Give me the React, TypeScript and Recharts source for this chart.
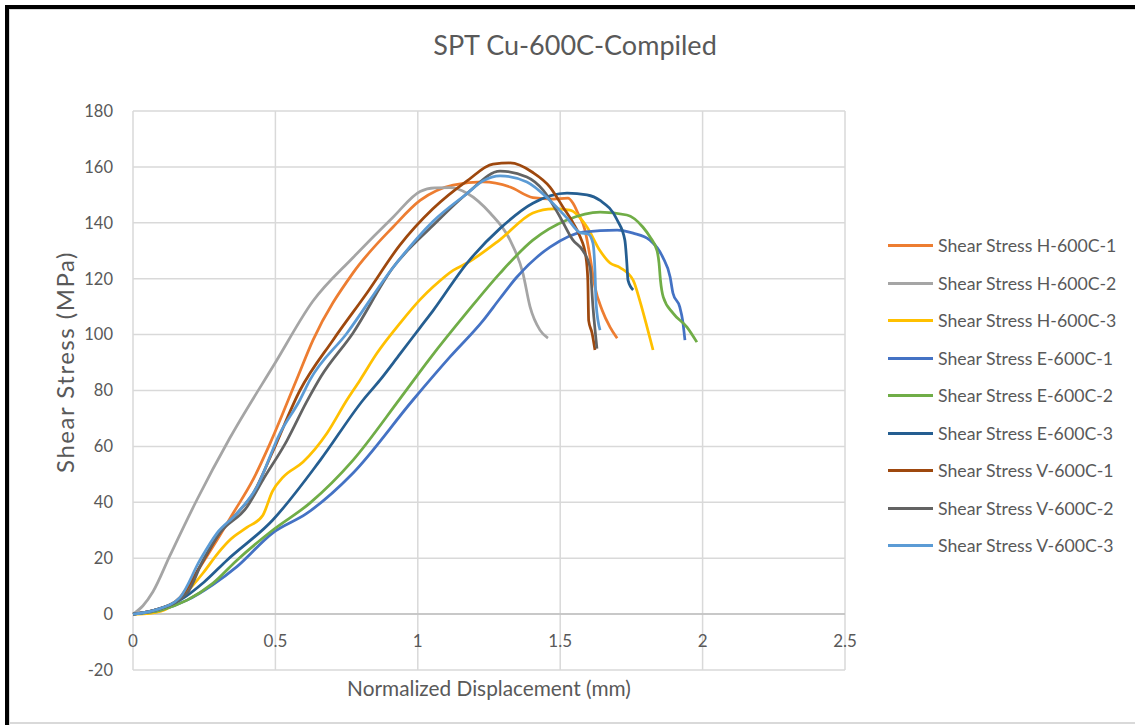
import { LineChart, Line, XAxis, YAxis, CartesianGrid, ReferenceLine, Legend } from "recharts";

type Pt = [number, number];

// normalized displacement (mm), shear stress (MPa)
const H1: Pt[] = [
  [0, 0], [0.08, 1.5], [0.165, 6], [0.23, 16], [0.295, 26.5], [0.351, 36], [0.421, 48], [0.481, 61],
  [0.575, 84], [0.632, 98], [0.772, 122], [0.913, 138.5], [1.008, 148], [1.124, 153.5], [1.229, 154.6],
  [1.324, 152.8], [1.404, 149], [1.475, 148.5], [1.527, 148.8], [1.545, 147], [1.562, 143.5],
  [1.587, 137.4], [1.605, 127.7], [1.622, 117], [1.647, 108.8], [1.675, 102.7], [1.7, 98.7],
];
const H2: Pt[] = [
  [0, 0], [0.035, 3], [0.07, 8], [0.13, 21], [0.225, 41], [0.34, 63], [0.5, 90], [0.632, 112],
  [0.772, 127.5], [0.913, 142], [1.008, 151.2], [1.06, 152.5], [1.113, 152.6], [1.173, 150.6],
  [1.254, 143.5], [1.324, 133.8], [1.369, 122], [1.394, 110], [1.429, 101.6], [1.457, 98.7],
];
const H3: Pt[] = [
  [0, 0], [0.06, 0.3], [0.13, 2.5], [0.19, 8], [0.246, 14.7], [0.3, 22], [0.34, 26.5], [0.4, 31],
  [0.456, 35.4], [0.49, 44], [0.527, 49], [0.597, 54.4], [0.681, 64.7], [0.751, 76.6], [0.797, 83.7],
  [0.857, 93.4], [0.937, 104], [1.008, 112.5], [1.053, 117], [1.124, 123], [1.173, 125.6], [1.289, 134],
  [1.404, 143.5], [1.475, 145], [1.534, 144.5], [1.594, 138.5], [1.64, 130], [1.675, 125.6], [1.71, 124],
  [1.756, 119.5], [1.78, 112], [1.805, 102.7], [1.826, 94.5],
];
const E1: Pt[] = [
  [0, 0], [0.1, 1.5], [0.19, 5], [0.28, 10.5], [0.365, 17], [0.49, 29], [0.61, 36], [0.772, 50.4],
  [0.983, 76.6], [1.113, 92], [1.229, 105], [1.289, 113], [1.348, 120.6], [1.464, 131.3], [1.58, 136.7],
  [1.7, 137.4], [1.756, 136.3], [1.815, 133.8], [1.86, 127.7], [1.886, 120.6], [1.896, 114.8],
  [1.92, 109.8], [1.93, 105], [1.938, 98],
];
const E2: Pt[] = [
  [0, 0], [0.1, 1.5], [0.19, 5], [0.28, 11], [0.365, 19.3], [0.49, 30], [0.621, 39.7], [0.772, 55],
  [0.937, 77], [1.043, 91.5], [1.173, 108], [1.289, 122], [1.404, 133.8], [1.524, 141], [1.64, 143.8],
  [1.734, 142.8], [1.79, 138.5], [1.815, 135], [1.84, 130], [1.847, 125.6], [1.852, 119.5],
  [1.862, 113.4], [1.896, 107.7], [1.945, 102.7], [1.98, 97.3],
];
const E3: Pt[] = [
  [0, 0], [0.08, 1.5], [0.165, 5], [0.25, 11.5], [0.33, 19.3], [0.49, 33.6], [0.657, 55], [0.808, 76.6],
  [0.867, 83.7], [0.937, 93], [1.008, 102.5], [1.053, 108.5], [1.173, 125.6], [1.289, 138], [1.404, 147],
  [1.524, 150.6], [1.594, 150], [1.64, 148], [1.7, 141], [1.727, 133.8], [1.734, 125.6], [1.738, 119.5],
  [1.756, 116],
];
const V1: Pt[] = [
  [0, 0], [0.08, 1.5], [0.165, 5.7], [0.235, 17], [0.305, 29], [0.365, 36], [0.421, 43], [0.49, 58],
  [0.586, 80], [0.702, 98], [0.822, 115], [0.937, 132], [1.053, 145], [1.173, 155], [1.264, 161],
  [1.324, 161.4], [1.404, 158], [1.464, 152.8], [1.51, 145.6], [1.545, 140], [1.57, 135], [1.59, 128],
  [1.597, 119.5], [1.6, 105], [1.612, 100.5], [1.622, 94.5],
];
const V2: Pt[] = [
  [0, 0], [0.08, 1.5], [0.19, 7.5], [0.246, 19.3], [0.305, 29], [0.4, 38.3], [0.456, 48], [0.54, 62],
  [0.61, 76], [0.66, 85], [0.772, 100.5], [0.913, 124], [1.053, 139], [1.173, 150.5], [1.289, 158.5],
  [1.383, 156.4], [1.44, 151.7], [1.5, 142], [1.545, 133.8], [1.58, 130], [1.605, 124], [1.615, 110],
  [1.629, 95],
];
const V3: Pt[] = [
  [0, 0], [0.08, 1.5], [0.165, 6], [0.235, 19.3], [0.295, 29], [0.365, 36], [0.435, 45.5], [0.516, 64.7],
  [0.586, 76.6], [0.621, 83.7], [0.751, 100.5], [0.913, 124], [1.053, 140.5], [1.173, 150.5],
  [1.229, 155], [1.289, 156.8], [1.383, 154.6], [1.464, 148], [1.524, 141.7], [1.57, 136.5],
  [1.598, 136], [1.615, 132.7], [1.622, 123], [1.626, 111], [1.64, 101.6],
];

const seriesNames = [
  "Shear Stress H-600C-1", "Shear Stress H-600C-2", "Shear Stress H-600C-3",
  "Shear Stress E-600C-1", "Shear Stress E-600C-2", "Shear Stress E-600C-3",
  "Shear Stress V-600C-1", "Shear Stress V-600C-2", "Shear Stress V-600C-3",
];
const seriesColors = [
  "#ED7D31", "#A5A5A5", "#FFC000",
  "#4472C4", "#70AD47", "#255E91",
  "#9E480E", "#636363", "#5B9BD5",
];
const seriesPoints = [H1, H2, H3, E1, E2, E3, V1, V2, V3];

const xTicks = [0, 0.5, 1, 1.5, 2, 2.5];
const yTicks = [-20, 0, 20, 40, 60, 80, 100, 120, 140, 160, 180];

const FONT = "Lato, 'Open Sans', sans-serif";
const TEXT = "#595959";

// x labels sit just under the zero line, not at the bottom of the plot
function XTick(props: any) {
  const { x, y, payload } = props;
  return (
    <text x={x} y={y - 23} textAnchor="middle" fill={TEXT} fontSize={17} fontFamily={FONT}>
      {payload.value}
    </text>
  );
}

function LegendList() {
  return (
    <div style={{ fontFamily: FONT, fontSize: 17.7, color: TEXT }}>
      {seriesNames.map((name, i) => (
        <div key={name} style={{ height: 37.5, display: "flex", alignItems: "center" }}>
          <div style={{ width: 45, height: 3, background: seriesColors[i], marginRight: 5 }} />
          <span style={{ whiteSpace: "nowrap" }}>{name}</span>
        </div>
      ))}
    </div>
  );
}

export default function App() {
  return (
    <div style={{ position: "absolute", left: 0, top: 0, width: 1135, height: 725, background: "#fff", overflow: "hidden" }}>
      <div style={{ position: "absolute", left: 5, top: 5, width: 1200, height: 800, borderTop: "4px solid #000", borderLeft: "4px solid #000" }} />
      <div style={{ position: "absolute", left: 9, top: 9, width: 1200, height: 800, borderTop: "1px solid #d9d9d9", borderLeft: "1px solid #d9d9d9" }} />
      <div style={{ position: "absolute", left: 9, top: 722, width: 1200, height: 2, background: "#d9d9d9" }} />
      <LineChart width={1135} height={725} margin={{ top: 111, right: 290, bottom: 0, left: 40 }} style={{ position: "absolute", left: 0, top: 0 }}>
        <CartesianGrid stroke="#d9d9d9" strokeWidth={1.5} />
        <XAxis
          dataKey="x"
          type="number"
          domain={[0, 2.5]}
          ticks={xTicks}
          height={55}
          tickLine={false}
          axisLine={false}
          tickSize={0}
          tickMargin={0}
          tick={<XTick />}
        />
        <YAxis
          type="number"
          domain={[-20, 180]}
          ticks={yTicks}
          width={93}
          tickLine={false}
          axisLine={false}
          tickMargin={14}
          tick={{ fill: TEXT, fontSize: 16.5, fontFamily: FONT }}
        />
        <ReferenceLine y={0} stroke="#bfbfbf" strokeWidth={1.5} />
        {seriesPoints.map((pts, i) => (
          <Line
            key={seriesNames[i]}
            name={seriesNames[i]}
            data={pts.map(([x, y]) => ({ x, y }))}
            dataKey="y"
            type="monotone"
            stroke={seriesColors[i]}
            strokeWidth={2.75}
            dot={false}
            activeDot={false}
            isAnimationActive={false}
          />
        ))}
        <Legend
          layout="vertical"
          align="center"
          verticalAlign="middle"
          wrapperStyle={{ left: 888, top: 227, width: 245 }}
          content={() => <LegendList />}
        />
      </LineChart>
      <div style={{ position: "absolute", left: 0, width: 1150, top: 28, textAlign: "center", fontFamily: FONT, fontSize: 27, color: TEXT }}>
        SPT Cu-600C-Compiled
      </div>
      <div style={{ position: "absolute", left: 289, width: 400, top: 675, textAlign: "center", fontFamily: FONT, fontSize: 20.8, color: TEXT, whiteSpace: "nowrap" }}>
        Normalized Displacement (mm)
      </div>
      <div
        style={{
          position: "absolute", left: 65 - 150, width: 300, top: 362 - 15, height: 30, lineHeight: "30px",
          textAlign: "center", fontFamily: FONT, fontSize: 24, letterSpacing: 1.5, color: TEXT, whiteSpace: "nowrap",
          transform: "rotate(-90deg)",
        }}
      >
        Shear Stress (MPa)
      </div>
    </div>
  );
}
